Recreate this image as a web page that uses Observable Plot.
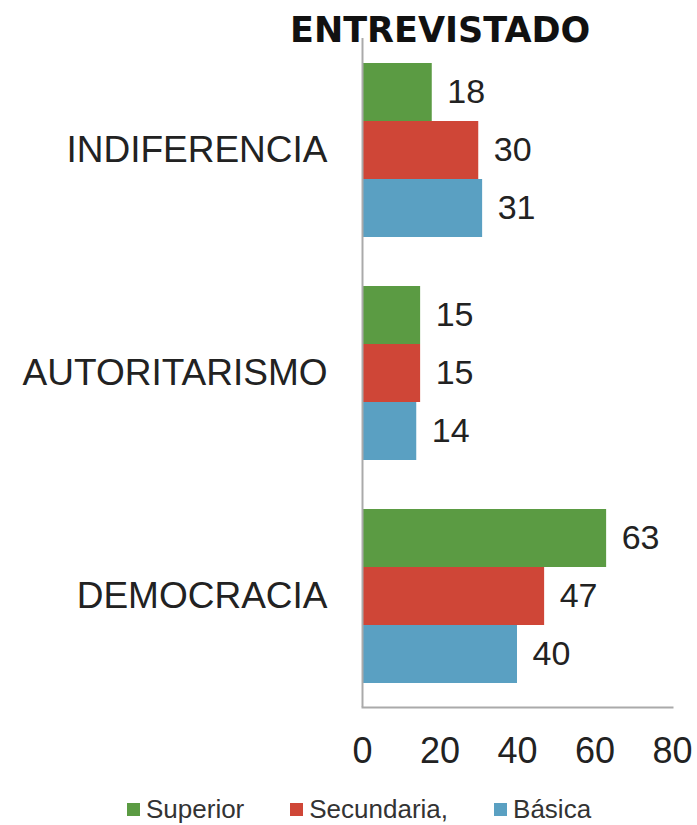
<!DOCTYPE html>
<html>
<head>
<meta charset="utf-8">
<script src="https://cdn.jsdelivr.net/npm/d3@7"></script>
<script src="https://cdn.jsdelivr.net/npm/@observablehq/plot@0.6"></script>
<style>
  html, body { margin: 0; padding: 0; background: #fff; }
  #wrap { width: 697px; height: 825px; position: relative; overflow: hidden; }
  #title { height: 37px; position: relative; z-index: 2; }
  #title span { position: absolute; left: 290px; top: 13px; line-height: 35px; font-family: "DejaVu Sans", sans-serif; font-weight: bold; font-size: 35px; letter-spacing: 0px; color: #111; white-space: nowrap; }
  #legend { display: flex; align-items: center; padding-left: 127px; padding-top: 19px; height: 26px; font-family: "Liberation Sans", Arial, sans-serif; font-size: 26px; color: #333; }
  .item { display: flex; align-items: center; margin-right: 46px; }
  .sw { width: 13px; height: 13px; margin-right: 6px; }
</style>
</head>
<body>
<div id="wrap">
  <div id="title"><span>ENTREVISTADO</span></div>
  <div id="chart"></div>
  <div id="legend"></div>
</div>
<script>
const categories = ["INDIFERENCIA", "AUTORITARISMO", "DEMOCRACIA"];
const series = ["Superior", "Secundaria,", "Básica"];
const superior = [18, 15, 63];
const secundaria = [30, 15, 47];
const basica = [31, 14, 40];
const colors = ["#5b9b43", "#cf4637", "#5aa0c2"];
const xTicks = [0, 20, 40, 60, 80];

const seriesValues = [superior, secundaria, basica];
const data = categories.flatMap((c, i) =>
  series.map((s, j) => ({ category: c, series: s, value: seriesValues[j][i] }))
);

const chart = Plot.plot({
  width: 697,
  height: 740,
  marginTop: 0,
  marginBottom: 70,
  marginLeft: 362,
  marginRight: 25,
  style: { fontFamily: "Liberation Sans, Arial, sans-serif", fontSize: "36px", color: "#222", background: "white", overflow: "visible" },
  x: { domain: [0, 80], ticks: xTicks, tickSize: 0, tickPadding: 30, label: null },
  y: { domain: series, axis: null, paddingInner: 0, paddingOuter: 0.4 },
  fy: { domain: categories, paddingInner: 0, paddingOuter: 0, label: null, axis: null },
  color: { domain: series, range: colors },
  marks: [
    Plot.barX(data, { fy: "category", y: "series", x: "value", fill: "series" }),
    Plot.text(data, { fy: "category", y: "series", x: "value", text: d => String(d.value), textAnchor: "start", dx: 15, fontSize: 34, fill: "#222" }),
    Plot.ruleX([0], { stroke: "#aaa", strokeWidth: 2 }),
    Plot.frame({ anchor: "bottom", facetAnchor: "bottom", stroke: "#aaa", strokeWidth: 2 }),
    Plot.axisFy({ anchor: "left", tickSize: 0, tickPadding: 35, fontSize: 37, label: null, fill: "#222" })
  ]
});
document.getElementById("chart").appendChild(chart);

const legend = document.getElementById("legend");
series.forEach((s, i) => {
  const item = document.createElement("div");
  item.className = "item";
  const sw = document.createElement("div");
  sw.className = "sw";
  sw.style.background = colors[i];
  const t = document.createElement("span");
  t.textContent = s;
  item.appendChild(sw);
  item.appendChild(t);
  legend.appendChild(item);
});
</script>
</body>
</html>
